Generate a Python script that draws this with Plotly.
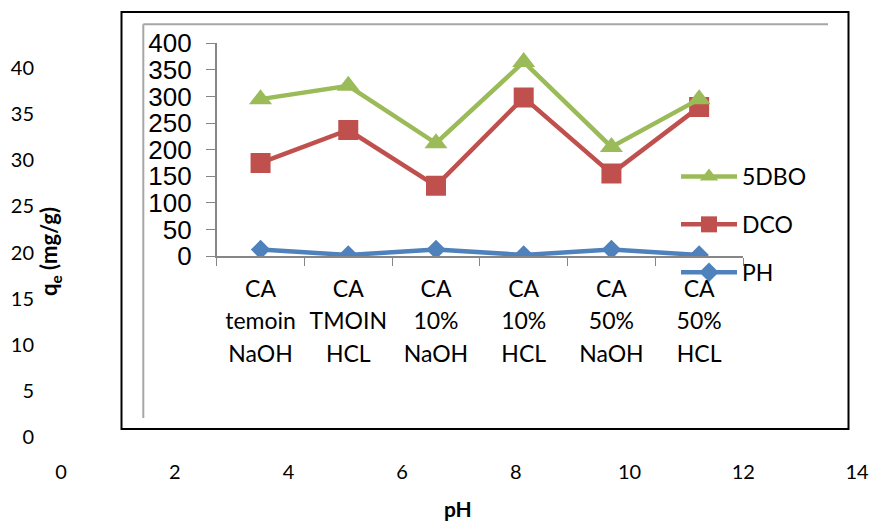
import plotly.graph_objects as go

W, H = 870, 521

# ---- data ----
categories = ["CA temoin NaOH", "CA TMOIN HCL", "CA 10% NaOH", "CA 10% HCL", "CA 50% NaOH", "CA 50% HCL"]
cat_lines = [["CA", "temoin", "NaOH"], ["CA", "TMOIN", "HCL"], ["CA", "10%", "NaOH"],
             ["CA", "10%", "HCL"], ["CA", "50%", "NaOH"], ["CA", "50%", "HCL"]]
dbo5 = [295, 320, 212, 365, 205, 295]
dco = [175, 237, 132, 298, 155, 280]
ph = [12, 2, 12, 2, 12, 2]

bg_x_ticks = [0, 2, 4, 6, 8, 10, 12, 14]
bg_y_ticks = [0, 5, 10, 15, 20, 25, 30, 35, 40]
inner_y_ticks = [0, 50, 100, 150, 200, 250, 300, 350, 400]

GREEN, RED, BLUE = "#9BBB59", "#C0504D", "#4F81BD"
AXGRAY = "#868686"
CAL = "Lato, Carlito, Calibri, sans-serif"
ARI = "Liberation Sans, Arial, sans-serif"


def px(x):
    return x / W


def py(y):
    return 1 - y / H


fig = go.Figure()

# empty trace so that the background (pH / qe) axes are drawn
fig.add_trace(go.Scatter(x=[], y=[], xaxis="x", yaxis="y", showlegend=False,
                         hoverinfo="skip", mode="markers"))

fig.add_trace(go.Scatter(x=categories, y=ph, name="PH", mode="lines+markers",
                         xaxis="x2", yaxis="y2", legendgroup="c", legendrank=3,
                         line=dict(color=BLUE, width=4.5),
                         marker=dict(symbol="diamond", size=15, color=BLUE)))
fig.add_trace(go.Scatter(x=categories, y=dco, name="DCO", mode="lines+markers",
                         xaxis="x2", yaxis="y2", legendgroup="b", legendrank=2,
                         line=dict(color=RED, width=4.5),
                         marker=dict(symbol="square", size=20, color=RED)))
fig.add_trace(go.Scatter(x=categories, y=dbo5, name="5DBO", mode="lines+markers",
                         xaxis="x2", yaxis="y2", legendgroup="a", legendrank=1,
                         line=dict(color=GREEN, width=4.5),
                         marker=dict(symbol="triangle-up", size=20, color=GREEN)))

ticktext = ["<br>".join(f"<span style='font-size:23px'>{l}</span>" for l in lines) for lines in cat_lines]

fig.update_layout(
    width=W, height=H,
    margin=dict(l=0, r=0, t=0, b=0, pad=0),
    paper_bgcolor="white", plot_bgcolor="rgba(0,0,0,0)",
    showlegend=True,
    legend=dict(x=px(676), y=py(155), xanchor="left", yanchor="top",
                traceorder="grouped", tracegroupgap=15,
                itemwidth=56, bgcolor="rgba(0,0,0,0)",
                font=dict(family=CAL, size=23, color="black")),
    xaxis=dict(domain=[px(61), px(857)], range=[0, 14], tickvals=bg_x_ticks,
               showgrid=False, zeroline=False, showline=False, automargin=False,
               ticklabeloverflow="allow",
               ticks="outside", ticklen=17, tickcolor="rgba(0,0,0,0)",
               tickfont=dict(family=CAL, size=20, color="black"), fixedrange=True),
    yaxis=dict(domain=[py(437), py(68)], range=[0, 40], tickvals=bg_y_ticks,
               showgrid=False, zeroline=False, showline=False, automargin=False,
               ticklabeloverflow="allow",
               ticks="outside", ticklen=22, tickcolor="rgba(0,0,0,0)",
               tickfont=dict(family=CAL, size=20, color="black"), fixedrange=True),
    xaxis2=dict(domain=[px(216.7), px(743)], anchor="y2", type="category",
                range=[-0.5, 5.5], tickvals=categories, ticktext=ticktext,
                tickson="boundaries", ticks="outside", ticklen=8, tickcolor=AXGRAY,
                ticklabelstandoff=9, automargin=False,
                showline=True, linecolor=AXGRAY, linewidth=1.5,
                showgrid=False, zeroline=False,
                tickfont=dict(family=CAL, size=25, color="black")),
    yaxis2=dict(domain=[py(256), py(43.3)], anchor="x2", range=[0, 400],
                tickvals=inner_y_ticks, automargin=False,
                ticks="outside", ticklen=9, tickcolor=AXGRAY, ticklabelstandoff=9,
                showline=True, linecolor=AXGRAY, linewidth=1.5,
                showgrid=False, zeroline=False,
                tickfont=dict(family=ARI, size=26, color="black")),
)

# frames (cropped inner chart's borders)
fig.add_shape(type="rect", xref="paper", yref="paper",
              x0=px(121.5), x1=px(848.5), y0=py(429), y1=py(12),
              line=dict(color="black", width=2), fillcolor="rgba(0,0,0,0)", layer="below")
fig.add_shape(type="line", xref="paper", yref="paper",
              x0=px(143.3), x1=px(828), y0=py(24.3), y1=py(24.3),
              line=dict(color="#A6A6A6", width=2))
fig.add_shape(type="line", xref="paper", yref="paper",
              x0=px(143.3), x1=px(143.3), y0=py(24.3), y1=py(418),
              line=dict(color="#A6A6A6", width=2))

fig.add_annotation(text="<b>pH</b>", xref="paper", yref="paper", x=px(458), y=py(508),
                   xanchor="center", yanchor="middle",
                   showarrow=False, font=dict(family=CAL, size=21, color="black"))
fig.add_annotation(text="<b>q<sub>e</sub> (mg/g)</b>", xref="paper", yref="paper",
                   x=px(50), y=py(252), textangle=-90, xanchor="center", yanchor="middle",
                   showarrow=False, font=dict(family=CAL, size=22, color="black"))

fig.write_html("out.html")
